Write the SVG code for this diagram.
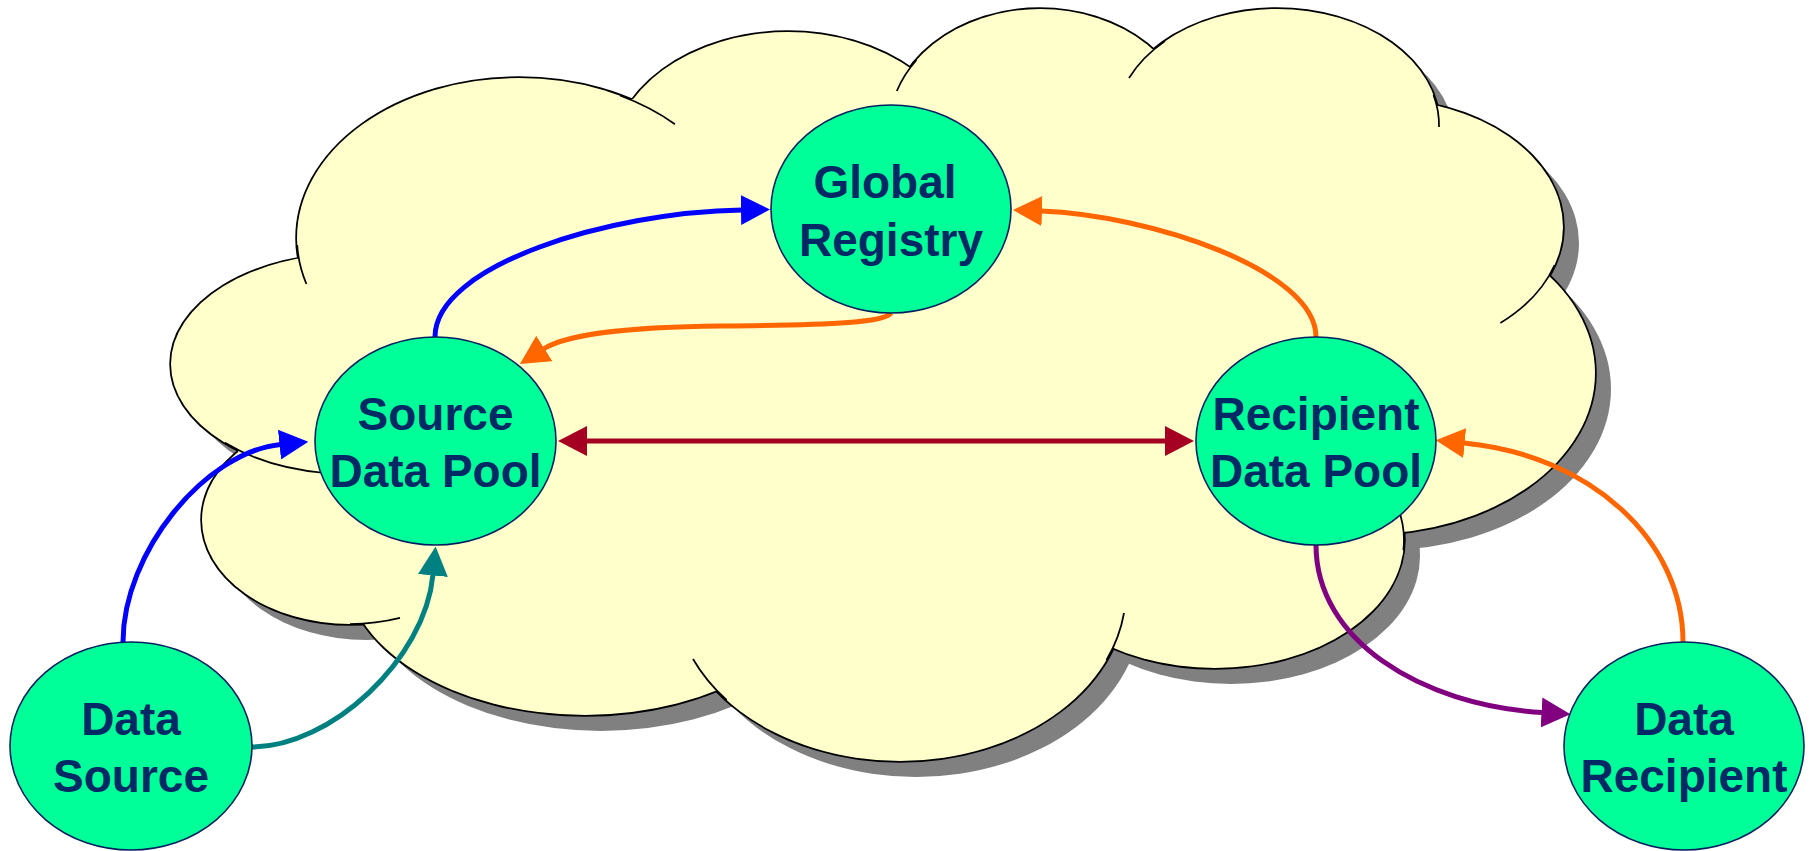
<svg xmlns="http://www.w3.org/2000/svg" width="1809" height="851" viewBox="0 0 1809 851">
<style>
.shadow{fill:#808080}
.lobe{fill:#FFFFCC;stroke:#000;stroke-width:3.5}
.fillonly{fill:#FFFFCC;stroke:none}
.stub{fill:none;stroke:#000;stroke-width:1.75}
.node ellipse{fill:#00FF99;stroke:#002060;stroke-width:1.6}
.node text{font-family:"Liberation Sans",Arial,Helvetica,sans-serif;font-weight:bold;font-size:46px;fill:#002966;text-anchor:middle}
.conn{fill:none;stroke-width:5}
</style>
<defs>
<g id="cloudshape">
<ellipse cx="519" cy="238" rx="222" ry="160"/>
<ellipse cx="788" cy="162" rx="177" ry="130"/>
<ellipse cx="1040" cy="129" rx="151" ry="120"/>
<ellipse cx="1277" cy="125" rx="162" ry="116"/>
<ellipse cx="1378" cy="227" rx="185" ry="128"/>
<ellipse cx="1368" cy="373" rx="227" ry="161"/>
<ellipse cx="1215" cy="540" rx="189" ry="128"/>
<ellipse cx="900" cy="591" rx="226" ry="170"/>
<ellipse cx="585" cy="565" rx="240" ry="150"/>
<ellipse cx="350" cy="520" rx="148" ry="104"/>
<ellipse cx="350" cy="364" rx="179" ry="110"/>
</g>
<polygon id="cloudcore" points="299,259 633,99 911,68 1154,49 1435,105 1549,276 1404,532 1113,648 715,690 362,623 238,452"/>
<marker id="ah-blue" viewBox="0 0 29 30" refX="1" refY="15" markerWidth="29" markerHeight="30" markerUnits="userSpaceOnUse" orient="auto"><path d="M0,0 L29,15 L0,30 Z" fill="#0000FF"/></marker>
<marker id="ah-orange" viewBox="0 0 29 30" refX="1" refY="15" markerWidth="29" markerHeight="30" markerUnits="userSpaceOnUse" orient="auto"><path d="M0,0 L29,15 L0,30 Z" fill="#FF6600"/></marker>
<marker id="ah-teal" viewBox="0 0 29 30" refX="1" refY="15" markerWidth="29" markerHeight="30" markerUnits="userSpaceOnUse" orient="auto"><path d="M0,0 L29,15 L0,30 Z" fill="#008080"/></marker>
<marker id="ah-purple" viewBox="0 0 29 30" refX="1" refY="15" markerWidth="29" markerHeight="30" markerUnits="userSpaceOnUse" orient="auto"><path d="M0,0 L29,15 L0,30 Z" fill="#800080"/></marker>
<marker id="ah-red" viewBox="0 0 29 30" refX="1" refY="15" markerWidth="29" markerHeight="30" markerUnits="userSpaceOnUse" orient="auto-start-reverse"><path d="M0,0 L29,15 L0,30 Z" fill="#A50021"/></marker>
</defs>
<rect width="1809" height="851" fill="#FFFFFF"/>
<g id="cloud">
<g class="shadow" transform="translate(16,16)"><use href="#cloudshape"/><use href="#cloudcore"/></g>
<g class="lobe"><use href="#cloudshape"/></g>
<g class="fillonly"><use href="#cloudshape"/><use href="#cloudcore"/></g>
<g class="stub">
<path d="M297.2,245 A222,160 0 0 0 306.4,284"/>
<path d="M620,95.5 A222,160 0 0 1 675,124.2"/>
<path d="M916.5,60 A151,120 0 0 0 896.8,91"/>
<path d="M1165,41.1 A162,116 0 0 0 1129,78"/>
<path d="M1433.5,95 A162,116 0 0 1 1439,127"/>
<path d="M1554.6,265 A185,128 0 0 1 1500.4,323"/>
<path d="M1403.4,550 A189,128 0 0 0 1394.5,500"/>
<path d="M1106.5,660 A226,170 0 0 0 1124,613"/>
<path d="M726.6,700 A226,170 0 0 1 693,659"/>
<path d="M350,624 A148,104 0 0 0 400,617.9"/>
<path d="M225,442.8 A179,110 0 0 0 325,473"/>
</g>
</g>
<g id="connectors">
<path class="conn" stroke="#0000FF" marker-end="url(#ah-blue)" d="M435,337 C435,265 610,212 742,210"/>
<path class="conn" stroke="#FF6600" marker-end="url(#ah-orange)" d="M891,313 C885,322 840,325 720,326 C640,327 570,332 543.5,349"/>
<path class="conn" stroke="#FF6600" marker-end="url(#ah-orange)" d="M1316,337 C1316,270 1150,215 1041,211"/>
<path class="conn" stroke="#A50021" marker-start="url(#ah-red)" marker-end="url(#ah-red)" d="M586,441 L1166,441"/>
<path class="conn" stroke="#0000FF" marker-end="url(#ah-blue)" d="M123,642 C123,553 205,452 280.5,444.5"/>
<path class="conn" stroke="#008080" marker-end="url(#ah-teal)" d="M252,747 C330,747 425,660 433,574.5"/>
<path class="conn" stroke="#800080" marker-end="url(#ah-purple)" d="M1316,545 C1316,640 1420,705 1542.5,712.5"/>
<path class="conn" stroke="#FF6600" marker-end="url(#ah-orange)" d="M1683,642 C1683,540 1590,455 1463.7,443"/>
</g>
<g id="global-registry" class="node">
<ellipse cx="891" cy="209" rx="120" ry="104"/>
<text x="885" y="198">Global</text>
<text x="891" y="256">Registry</text>
</g>
<g id="source-data-pool" class="node">
<ellipse cx="435.5" cy="441" rx="120.5" ry="104"/>
<text x="435.5" y="430">Source</text>
<text x="435.5" y="487">Data Pool</text>
</g>
<g id="recipient-data-pool" class="node">
<ellipse cx="1316" cy="441" rx="120" ry="104"/>
<text x="1316" y="430">Recipient</text>
<text x="1316" y="487">Data Pool</text>
</g>
<g id="data-source" class="node">
<ellipse cx="131" cy="746" rx="121" ry="104"/>
<text x="131" y="735">Data</text>
<text x="131" y="792">Source</text>
</g>
<g id="data-recipient" class="node">
<ellipse cx="1684" cy="746" rx="120" ry="104"/>
<text x="1684" y="735">Data</text>
<text x="1684" y="792">Recipient</text>
</g>
</svg>
